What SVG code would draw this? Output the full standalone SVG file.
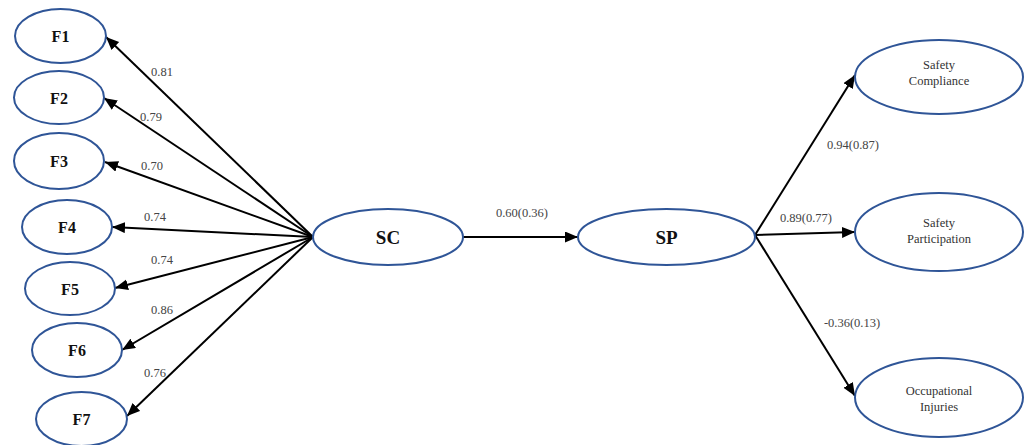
<svg xmlns="http://www.w3.org/2000/svg" width="1031" height="445" viewBox="0 0 1031 445">
<style>
.n{fill:#fff;stroke:#2F5597;stroke-width:2}
.c{stroke:#000;stroke-width:2;fill:none;marker-end:url(#ah)}
.f{font-family:"Liberation Serif",serif;font-weight:bold;font-size:16px;fill:#111;text-anchor:middle}
.b{font-family:"Liberation Serif",serif;font-weight:bold;font-size:19px;fill:#111;text-anchor:middle}
.r{font-family:"Liberation Serif",serif;font-size:12.5px;fill:#333;text-anchor:middle}
.l{font-family:"Liberation Serif",serif;font-size:12.5px;fill:#444;text-anchor:middle}
</style>
<defs>
<marker id="ah" markerUnits="userSpaceOnUse" markerWidth="14" markerHeight="12" refX="13" refY="5.5" orient="auto">
<path d="M0,0 L13,5.5 L0,11 z" fill="#000"/>
</marker>
</defs>
<rect width="1031" height="445" fill="#fff"/>
<g id="connectors">
<line class="c" x1="313" y1="237" x2="106" y2="37"/>
<line class="c" x1="313" y1="237" x2="104" y2="98"/>
<line class="c" x1="313" y1="237" x2="105" y2="162"/>
<line class="c" x1="313" y1="237" x2="112" y2="227"/>
<line class="c" x1="313" y1="237" x2="115" y2="288"/>
<line class="c" x1="313" y1="237" x2="122" y2="350"/>
<line class="c" x1="313" y1="237" x2="127" y2="416"/>
<line class="c" x1="463" y1="237" x2="578" y2="237"/>
<line class="c" x1="755" y1="235" x2="855" y2="75"/>
<line class="c" x1="755" y1="235" x2="855" y2="232"/>
<line class="c" x1="755" y1="235" x2="855" y2="396"/>
<text class="l" x="162" y="76">0.81</text>
<text class="l" x="151" y="121">0.79</text>
<text class="l" x="152" y="170">0.70</text>
<text class="l" x="155" y="221">0.74</text>
<text class="l" x="162" y="264">0.74</text>
<text class="l" x="162" y="314">0.86</text>
<text class="l" x="155" y="377">0.76</text>
<text class="l" x="522" y="217">0.60(0.36)</text>
<text class="l" x="853" y="149">0.94(0.87)</text>
<text class="l" x="806" y="222">0.89(0.77)</text>
<text class="l" x="852" y="327">-0.36(0.13)</text>
</g>
<g id="F1"><ellipse class="n" cx="60.5" cy="36" rx="45.5" ry="27"/><text class="f" x="60.5" y="42">F1</text></g>
<g id="F2"><ellipse class="n" cx="59" cy="97.5" rx="45" ry="26.5"/><text class="f" x="59" y="103.5">F2</text></g>
<g id="F3"><ellipse class="n" cx="59" cy="161" rx="45" ry="28"/><text class="f" x="59" y="167">F3</text></g>
<g id="F4"><ellipse class="n" cx="67" cy="227" rx="45" ry="27"/><text class="f" x="67" y="233">F4</text></g>
<g id="F5"><ellipse class="n" cx="70" cy="288.5" rx="45" ry="26.5"/><text class="f" x="70" y="294.5">F5</text></g>
<g id="F6"><ellipse class="n" cx="77" cy="350" rx="45" ry="27"/><text class="f" x="77" y="356">F6</text></g>
<g id="F7"><ellipse class="n" cx="81.5" cy="419" rx="45.5" ry="27"/><text class="f" x="81.5" y="425">F7</text></g>
<g id="SC"><ellipse class="n" cx="388" cy="237" rx="75" ry="28"/><text class="b" x="388" y="244">SC</text></g>
<g id="SP"><ellipse class="n" cx="666.5" cy="237" rx="88.5" ry="28"/><text class="b" x="666.5" y="244">SP</text></g>
<g id="SafetyCompliance"><ellipse class="n" cx="939" cy="77" rx="84" ry="37"/><text class="r" x="939" y="69">Safety</text><text class="r" x="939" y="85">Compliance</text></g>
<g id="SafetyParticipation"><ellipse class="n" cx="939" cy="232" rx="84" ry="39"/><text class="r" x="939" y="227">Safety</text><text class="r" x="939" y="243">Participation</text></g>
<g id="OccupationalInjuries"><ellipse class="n" cx="939" cy="397.5" rx="84" ry="39.5"/><text class="r" x="939" y="395">Occupational</text><text class="r" x="939" y="411">Injuries</text></g>
</svg>
